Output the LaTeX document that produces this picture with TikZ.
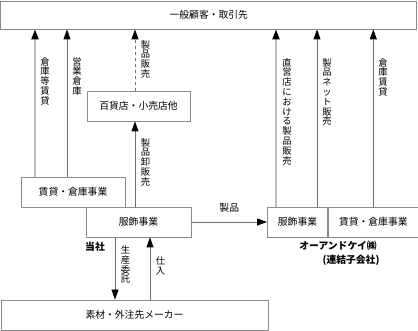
\documentclass[tikz,border=0pt]{standalone}
\usepackage{fontspec}
\setmainfont{Noto Sans CJK JP}
\usetikzlibrary{arrows.meta,positioning,calc}
\definecolor{frame}{HTML}{8C8C8C}
\definecolor{pale}{HTML}{BDBDBD}
\definecolor{dark}{HTML}{6E6E6E}
\newcommand{\boxfont}{\fontsize{9.8}{11}\selectfont}
\newcommand{\tatefont}{\fontsize{9.3}{9.8}\selectfont}
\tikzset{
  box/.style={draw=frame, line width=0.8pt, minimum height=30pt, inner sep=0pt,
    font=\boxfont},
  tate/.style={align=center, inner sep=0pt, anchor=north, font=\tatefont},
  tag/.style={inner sep=0pt, font=\boxfont\bfseries},
  tip/.style={-{Triangle[length=10pt, width=7pt, color=black]}},
  paleflow/.style={tip, draw=pale, line width=2pt},
  flow/.style={tip, draw=dark, line width=0.8pt},
}

\begin{document}
\begin{tikzpicture}[x=1pt, y=-1pt]
    \useasboundingbox (0,0) rectangle (418,331);

    \node[box, minimum width=416pt, minimum height=28pt] (cust) at (208.8,15) {一般顧客・取引先};
    \node[box, minimum width=103pt] (dept) at (138.5,106) {百貨店・小売店他};
    \node[box, minimum width=104pt] (lease) at (73,192) {賃貸・倉庫事業};
    \node[box, minimum width=105pt] (apparel) at (138.5,222) {服飾事業};
    \node[box, minimum width=267pt] (maker) at (134.5,315) {素材・外注先メーカー};
    \node[box, minimum width=60pt] (okapp) at (297.5,222) {服飾事業};
    \node[box, minimum width=90pt, anchor=west] (oklease) at (okapp.east) {賃貸・倉庫事業};

    \node[tag] (self) at (95,247) {当社};
    \node[tag] (okname) at (338,246) {オーアンドケイ㈱};
    \node[tag] (oksub) at (351,260) {(連結子会社)};

    % 当社 -> 顧客
    \draw[paleflow] ([xshift=-38pt]lease.north) -- ([xshift=-38pt]lease.north |- cust.south);
    \draw[flow] ([xshift=-6pt]lease.north) -- ([xshift=-6pt]lease.north |- cust.south);
    \draw[flow, dashed] ([xshift=-3.5pt]dept.north) -- ([xshift=-3.5pt]dept.north |- cust.south);
    \draw[flow] ([xshift=-3.5pt]apparel.north) -- ([xshift=-3.5pt]dept.south);
    \draw[flow] (apparel.east) -- node[tag, font=\boxfont, above=9pt] (prodlbl) {製品} (okapp.west);

    % 子会社 -> 顧客
    \draw[paleflow] ([xshift=-21.5pt]okapp.north) -- ([xshift=-21.5pt]okapp.north |- cust.south);
    \draw[flow] ([xshift=19.5pt]okapp.north) -- ([xshift=19.5pt]okapp.north |- cust.south);
    \draw[flow] (oklease.north) -- (oklease.north |- cust.south);

    % 仕入先
    \draw[flow] ([xshift=-23.5pt]apparel.south) -- ([xshift=-23.5pt]apparel.south |- maker.north);
    \draw[flow] ([xshift=11.5pt]apparel.south |- maker.north) -- ([xshift=11.5pt]apparel.south);

    \node[tate] (l1) at (45,57) {倉\\庫\\等\\賃\\貸};
    \node[tate] (l2) at (77,57) {営\\業\\倉\\庫};
    \node[tate] (l3) at (145.5,40) {製\\品\\販\\売};
    \node[tate] (l4) at (145.5,138) {製\\品\\卸\\販\\売};
    \node[tate] (l5) at (287,58) {直\\営\\店\\に\\お\\け\\る\\製\\品\\販\\売};
    \node[tate] (l6) at (327,58) {製\\品\\ネ\\ッ\\ト\\販\\売};
    \node[tate] (l7) at (383,58) {倉\\庫\\賃\\貸};
    \node[tate] (l8) at (125.5,245.5) {生\\産\\委\\託};
    \node[tate] (l9) at (160.5,257) {仕\\入};
\end{tikzpicture}
\end{document}
